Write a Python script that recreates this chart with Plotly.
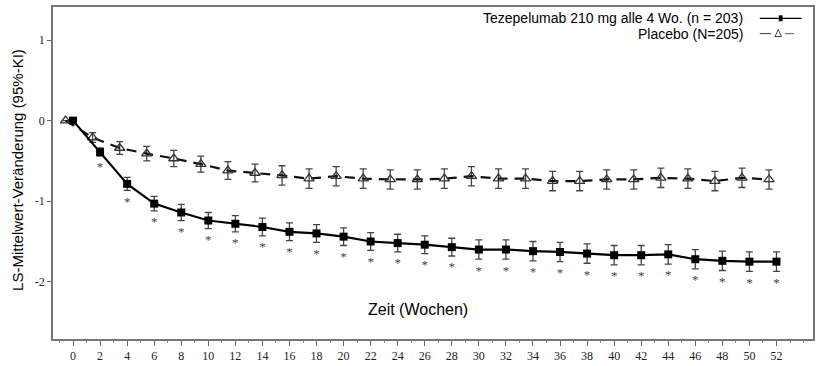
import plotly.graph_objects as go

weeks = list(range(0, 53, 2))
tez_mean = [0, -0.39, -0.785, -1.03, -1.14, -1.24, -1.28, -1.32, -1.38, -1.40, -1.44, -1.50, -1.52,
            -1.54, -1.57, -1.60, -1.60, -1.62, -1.63, -1.65, -1.67, -1.67, -1.66, -1.72, -1.74, -1.75, -1.75]
tez_err = [0, 0.05, 0.08, 0.09, 0.10, 0.10, 0.10, 0.11, 0.11, 0.11, 0.11, 0.11, 0.11,
           0.11, 0.11, 0.12, 0.12, 0.12, 0.12, 0.12, 0.12, 0.12, 0.12, 0.12, 0.12, 0.12, 0.12]
pla_mean = [0, -0.21, -0.34, -0.41, -0.47, -0.54, -0.62, -0.65, -0.68, -0.72, -0.69, -0.72, -0.73,
            -0.73, -0.72, -0.69, -0.72, -0.72, -0.75, -0.75, -0.73, -0.73, -0.71, -0.72, -0.75, -0.71, -0.73]
pla_err = [0, 0.06, 0.08, 0.09, 0.10, 0.10, 0.11, 0.11, 0.12, 0.12, 0.12, 0.12, 0.12,
           0.12, 0.12, 0.12, 0.12, 0.12, 0.12, 0.12, 0.12, 0.12, 0.12, 0.12, 0.12, 0.12, 0.12]
pla_offset = -0.55
sig_weeks = weeks[1:]

tez_label = "Tezepelumab 210 mg alle 4 Wo. (n = 203)"
pla_label = "Placebo (N=205)"
x_title = "Zeit (Wochen)"
y_title = "LS-Mittelwert-Veränderung (95%-KI)"

fig = go.Figure()

fig.add_trace(go.Scatter(
    x=[w + pla_offset for w in weeks], y=pla_mean,
    mode="lines+markers",
    line=dict(color="#111111", width=2.2, dash="10px,7px"),
    marker=dict(symbol="triangle-up-open", size=9, color="#333333", line=dict(width=1.3)),
    error_y=dict(type="data", array=pla_err, color="#444444", thickness=1.3, width=3.5),
    showlegend=False,
))

fig.add_trace(go.Scatter(
    x=weeks, y=tez_mean,
    mode="lines+markers",
    line=dict(color="#000000", width=2.2),
    marker=dict(symbol="square", size=8, color="#000000"),
    error_y=dict(type="data", array=tez_err, color="#444444", thickness=1.3, width=3.5),
    showlegend=False,
))

sig_y = [tez_mean[i] - tez_err[i] - 0.15 for i in range(1, len(weeks))]
fig.add_trace(go.Scatter(
    x=sig_weeks, y=sig_y, mode="text", text=["*"] * len(sig_weeks),
    textfont=dict(family="Liberation Serif", size=13, color="#444444"),
    textposition="middle center", showlegend=False, hoverinfo="skip",
))

# Legend (manual, symbols to the right of text)
fig.add_annotation(xref="paper", yref="paper", x=0.911, y=0.966, xanchor="right", yanchor="middle",
                   text=tez_label, showarrow=False, font=dict(family="Liberation Sans", size=14, color="#000"))
fig.add_annotation(xref="paper", yref="paper", x=0.911, y=0.92, xanchor="right", yanchor="middle",
                   text=pla_label, showarrow=False, font=dict(family="Liberation Sans", size=14, color="#000"))
fig.add_shape(type="line", xref="paper", yref="paper", x0=0.93, x1=0.985, y0=0.966, y1=0.966,
              line=dict(color="#000", width=1.2))
fig.add_shape(type="rect", xref="paper", yref="paper", x0=0.955, x1=0.96, y0=0.957, y1=0.975,
              line=dict(width=0), fillcolor="#000")
fig.add_shape(type="line", xref="paper", yref="paper", x0=0.93, x1=0.945, y0=0.92, y1=0.92,
              line=dict(color="#555", width=1.2))
fig.add_shape(type="line", xref="paper", yref="paper", x0=0.963, x1=0.975, y0=0.92, y1=0.92,
              line=dict(color="#777", width=1.2))
fig.add_shape(type="path", xref="paper", yref="paper",
              path="M 0.950 0.911 L 0.9585 0.911 L 0.95425 0.932 Z",
              line=dict(color="#444", width=1), fillcolor="rgba(0,0,0,0)")

fig.add_annotation(xref="x", yref="y", x=25.5, y=-2.34, text=x_title, showarrow=False,
                   font=dict(family="Liberation Sans", size=16, color="#000"))
fig.add_annotation(xref="paper", yref="paper", x=-0.047, y=0.51, xanchor="center", yanchor="middle",
                   text=y_title, textangle=-90, showarrow=False,
                   font=dict(family="Liberation Sans", size=15, color="#000"))

fig.update_layout(
    width=821, height=366,
    margin=dict(l=53, r=8, t=7, b=27, autoexpand=False),
    paper_bgcolor="white", plot_bgcolor="white",
    showlegend=False,
    xaxis=dict(
        range=[-1.48, 54.7], tickmode="array", tickvals=weeks, ticktext=[str(w) for w in weeks],
        ticks="outside", ticklen=5, tickcolor="#666", tickwidth=1,
        minor=dict(dtick=1, tick0=0, ticks="outside", ticklen=2, tickcolor="#888"),
        showgrid=False, zeroline=False, showline=True, linecolor="#777", linewidth=1.5, mirror=True,
        tickfont=dict(family="Liberation Serif", size=12, color="#222"), automargin=False,
    ),
    yaxis=dict(
        range=[-2.71, 1.41], tickvals=[1, 0, -1, -2], ticktext=["1", "0", "-1", "-2"],
        ticks="outside", ticklen=4, tickcolor="#666",
        showgrid=False, zeroline=False, showline=True, linecolor="#777", linewidth=1.5, mirror=True,
        tickfont=dict(family="Liberation Serif", size=12, color="#222"), automargin=False,
    ),
)

fig.write_html("out.html", config={"displayModeBar": False},
               post_script="document.body.style.margin='0px';")
